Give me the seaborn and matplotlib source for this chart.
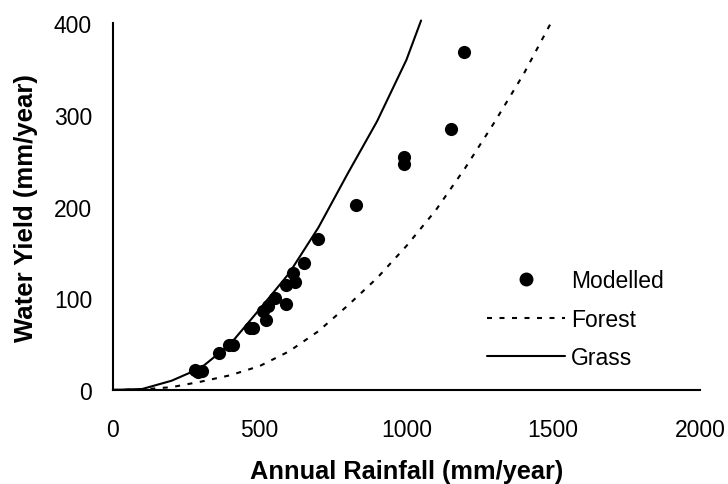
import numpy as np
import pandas as pd
import seaborn as sns
import matplotlib
matplotlib.use("Agg")
import matplotlib.pyplot as plt
from matplotlib.lines import Line2D

# Modelled catchments: annual rainfall vs water yield
modelled_rain = [280, 290, 305, 362, 395, 410, 468, 478, 512, 521, 530, 552,
                 590, 590, 614, 620, 651, 700, 828, 993, 993, 1152, 1197]
modelled_yield = [22, 20, 21, 40, 49, 49, 67, 68, 86, 76, 92, 100,
                  114, 94, 128, 118, 138, 165, 202, 254, 246, 285, 369]

# Response curves for forested and grassed catchments
forest_rain = [0, 100, 200, 300, 400, 500, 600, 700, 800, 900, 1000, 1100,
               1200, 1300, 1400, 1500]
forest_yield = [0, 0.5, 3, 9, 16, 26, 42, 64, 92, 122, 157, 196,
                242, 292, 345, 405]
grass_rain = [0, 100, 200, 300, 400, 500, 600, 700, 800, 900, 1000, 1050]
grass_yield = [0, 1, 10, 24, 50, 88, 127, 177, 236, 293, 360, 403]

x_ticks = [0, 500, 1000, 1500, 2000]
y_ticks = [0, 100, 200, 300, 400]

sns.set_theme(style="white")
plt.rcParams["font.family"] = ["Liberation Sans", "DejaVu Sans"]
plt.rcParams["text.color"] = "black"
plt.rcParams["axes.labelcolor"] = "black"

FOREST_DASH = (2.4, 3.6)

fig = plt.figure(figsize=(7.28, 4.85), dpi=100)
ax = fig.add_axes([0.155, 0.194, 0.8065, 0.756])

pts = pd.DataFrame({"rain": modelled_rain, "yield": modelled_yield})
forest = pd.DataFrame({"rain": forest_rain, "yield": forest_yield})
grass = pd.DataFrame({"rain": grass_rain, "yield": grass_yield})

sns.scatterplot(data=pts, x="rain", y="yield", ax=ax, s=90, color="black",
                edgecolor="black", linewidth=0, zorder=3, legend=False)
sns.lineplot(data=forest, x="rain", y="yield", ax=ax, color="black", lw=1.5,
             sort=False, legend=False)
sns.lineplot(data=grass, x="rain", y="yield", ax=ax, color="black", lw=1.5,
             sort=False, legend=False)
forest_line, grass_line = ax.get_lines()[-2:]
forest_line.set_dashes(FOREST_DASH)
for ln in (forest_line, grass_line):
    ln.set_clip_on(False)

ax.set_xlim(0, 2000)
ax.set_ylim(0, 400)
ax.set_xticks(x_ticks)
ax.set_yticks(y_ticks)
ax.tick_params(axis="both", direction="in", length=7, width=1.5,
               labelsize=16.5, colors="black")
ax.tick_params(axis="y", pad=15)
ax.tick_params(axis="x", pad=20)
for side in ("top", "right"):
    ax.spines[side].set_visible(False)
for side in ("left", "bottom"):
    ax.spines[side].set_color("black")
    ax.spines[side].set_linewidth(1.5)

ax.set_xlabel("Annual Rainfall (mm/year)", fontsize=18.3, fontweight="bold",
              labelpad=13)
ax.set_ylabel("Water Yield (mm/year)", fontsize=18.5, fontweight="bold",
              labelpad=11)

handles = [
    Line2D([], [], ls="none", marker="o", ms=9, color="black"),
    Line2D([], [], color="black", lw=1.5, dashes=FOREST_DASH),
    Line2D([], [], color="black", lw=1.5),
]
labels = ["Modelled", "Forest", "Grass"]
ax.legend(handles, labels, loc="upper left",
          bbox_to_anchor=(487 / 728, 1 - 270 / 485),
          bbox_transform=fig.transFigure, frameon=False, fontsize=16.5,
          handlelength=3.4, handletextpad=0.28, labelspacing=0.68,
          borderpad=0, borderaxespad=0)

fig.savefig("out.png", dpi=100, facecolor="white")
